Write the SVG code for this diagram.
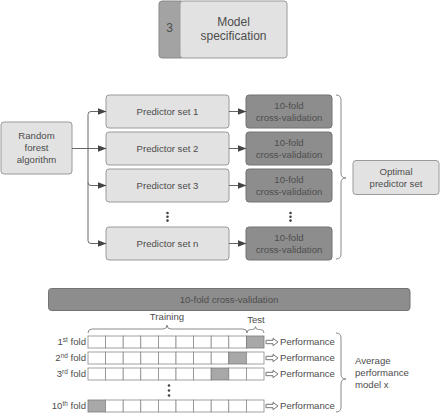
<svg xmlns="http://www.w3.org/2000/svg" width="440" height="413" viewBox="0 0 440 413">
<defs>
<style>
text{font-family:"Liberation Sans",Arial,sans-serif;fill:#4d4d4d;font-size:9.6px;text-anchor:middle}
.light{fill:#e2e2e2;stroke:#9a9a9a;stroke-width:1}
.dark{fill:#8d8d8d;stroke:#737373;stroke-width:1}
.cell{fill:#ffffff;stroke:#8a8a8a;stroke-width:0.8}
.hi{fill:#a8a8a8;stroke:#7a7a7a;stroke-width:0.8}
.edge{fill:none;stroke:#666;stroke-width:1}
.brace{fill:none;stroke:#8a8a8a;stroke-width:1}
.hollow{fill:#fff;stroke:#666;stroke-width:0.9}
.dot{fill:#444}
.l{text-anchor:start}
.r{text-anchor:end}
</style>
<marker id="ah" markerWidth="9" markerHeight="7" refX="8.5" refY="3.5" orient="auto" markerUnits="userSpaceOnUse">
<path d="M0,0 L9,3.5 L0,7 Z" fill="#444"/>
</marker>
</defs>

<g id="header">
<rect x="159" y="1" width="25" height="57" rx="3" fill="#a3a3a3" stroke="#8a8a8a"/>
<rect x="180" y="1" width="107" height="57" rx="3" class="light"/>
<text x="169.5" y="32" style="font-size:12px">3</text>
<text x="233.5" y="25.5" style="font-size:12px">Model</text>
<text x="233.5" y="39.5" style="font-size:12px">specification</text>
</g>

<g id="random-forest">
<rect x="1" y="122" width="71" height="52" rx="3" class="light"/>
<text x="36.5" y="139">Random</text>
<text x="36.5" y="150.7">forest</text>
<text x="36.5" y="162.5">algorithm</text>
</g>

<g id="predictor-sets">
<g id="ps1"><rect x="106" y="95" width="123" height="33" rx="3" class="light"/><text x="167.5" y="114.8">Predictor set 1</text></g>
<g id="ps2"><rect x="106" y="132" width="123" height="33" rx="3" class="light"/><text x="167.5" y="151.8">Predictor set 2</text></g>
<g id="ps3"><rect x="106" y="169" width="123" height="33" rx="3" class="light"/><text x="167.5" y="188.8">Predictor set 3</text></g>
<g id="psn"><rect x="106" y="227" width="123" height="33" rx="3" class="light"/><text x="167.5" y="246.8">Predictor set n</text></g>
</g>

<g id="cv-boxes">
<g id="cv1"><rect x="246" y="95" width="86" height="33" rx="3" class="dark"/><text x="289" y="109.3">10-fold</text><text x="289" y="120.7">cross-validation</text></g>
<g id="cv2"><rect x="246" y="132" width="86" height="33" rx="3" class="dark"/><text x="289" y="146.3">10-fold</text><text x="289" y="157.7">cross-validation</text></g>
<g id="cv3"><rect x="246" y="169" width="86" height="33" rx="3" class="dark"/><text x="289" y="183.3">10-fold</text><text x="289" y="194.7">cross-validation</text></g>
<g id="cvn"><rect x="246" y="227" width="86" height="33" rx="3" class="dark"/><text x="289" y="241.3">10-fold</text><text x="289" y="252.7">cross-validation</text></g>
</g>

<g id="ellipsis-top">
<circle cx="167.5" cy="213" r="1.3" class="dot"/><circle cx="167.5" cy="216.8" r="1.3" class="dot"/><circle cx="167.5" cy="220.6" r="1.3" class="dot"/>
<circle cx="290.5" cy="213" r="1.3" class="dot"/><circle cx="290.5" cy="216.8" r="1.3" class="dot"/><circle cx="290.5" cy="220.6" r="1.3" class="dot"/>
</g>

<g id="optimal">
<rect x="353" y="160.5" width="86" height="34" rx="3" class="light"/>
<text x="396" y="175">Optimal</text>
<text x="396" y="186.6">predictor set</text>
</g>

<g id="connectors">
<path class="edge" d="M72,148.5 H106" marker-end="url(#ah)"/>
<path class="edge" d="M88,148.5 V114.5 Q88,111.5 91,111.5 H106" marker-end="url(#ah)"/>
<path class="edge" d="M88,148.5 V182.5 Q88,185.5 91,185.5 H106" marker-end="url(#ah)"/>
<path class="edge" d="M88,182.5 V240.5 Q88,243.5 91,243.5 H106" marker-end="url(#ah)"/>
<path class="edge" d="M229,111.5 H246" marker-end="url(#ah)"/>
<path class="edge" d="M229,148.5 H246" marker-end="url(#ah)"/>
<path class="edge" d="M229,185.5 H246" marker-end="url(#ah)"/>
<path class="edge" d="M229,243.5 H246" marker-end="url(#ah)"/>
<path class="brace" d="M336,95 Q341,95 341,100 V173 Q341,178 346,178 Q341,178 341,183 V254 Q341,259 336,259"/>
</g>

<g id="cv-detail">
<rect x="48.5" y="288.5" width="361.5" height="22" rx="3" class="dark"/>
<text x="229" y="302.8">10-fold cross-validation</text>
<text x="167" y="320">Training</text>
<text x="256" y="322.5">Test</text>
<path class="brace" d="M88,333 Q88,329 92,329 H163 Q167,329 167,325 Q167,329 171,329 H243 Q247,329 247,333"/>
<path class="brace" d="M247,333 Q247,329.5 250.5,329.5 H252.5 Q255.5,329.5 255.5,326.5 Q255.5,329.5 258.5,329.5 H260.5 Q264,329.5 264,333"/>

<g id="fold1">
<text class="r" x="86" y="345.4">1<tspan style="font-size:6.5px" dy="-3">st</tspan><tspan dy="3"> fold</tspan></text>
<rect class="cell" x="88" y="336" width="17.6" height="12"/><rect class="cell" x="105.6" y="336" width="17.6" height="12"/><rect class="cell" x="123.2" y="336" width="17.6" height="12"/><rect class="cell" x="140.8" y="336" width="17.6" height="12"/><rect class="cell" x="158.4" y="336" width="17.6" height="12"/><rect class="cell" x="176" y="336" width="17.6" height="12"/><rect class="cell" x="193.6" y="336" width="17.6" height="12"/><rect class="cell" x="211.2" y="336" width="17.6" height="12"/><rect class="cell" x="228.8" y="336" width="17.6" height="12"/><rect class="hi" x="246.4" y="336" width="17.6" height="12"/>
<path class="hollow" d="M266,340.3 H273 V338.3 L278,342 L273,345.7 V343.7 H266 Z"/>
<text class="l" x="280" y="345.4">Performance</text>
</g>
<g id="fold2">
<text class="r" x="86" y="361.4">2<tspan style="font-size:6.5px" dy="-3">nd</tspan><tspan dy="3"> fold</tspan></text>
<rect class="cell" x="88" y="352" width="17.6" height="12"/><rect class="cell" x="105.6" y="352" width="17.6" height="12"/><rect class="cell" x="123.2" y="352" width="17.6" height="12"/><rect class="cell" x="140.8" y="352" width="17.6" height="12"/><rect class="cell" x="158.4" y="352" width="17.6" height="12"/><rect class="cell" x="176" y="352" width="17.6" height="12"/><rect class="cell" x="193.6" y="352" width="17.6" height="12"/><rect class="cell" x="211.2" y="352" width="17.6" height="12"/><rect class="hi" x="228.8" y="352" width="17.6" height="12"/><rect class="cell" x="246.4" y="352" width="17.6" height="12"/>
<path class="hollow" d="M266,356.3 H273 V354.3 L278,358 L273,361.7 V359.7 H266 Z"/>
<text class="l" x="280" y="361.4">Performance</text>
</g>
<g id="fold3">
<text class="r" x="86" y="377.4">3<tspan style="font-size:6.5px" dy="-3">rd</tspan><tspan dy="3"> fold</tspan></text>
<rect class="cell" x="88" y="368" width="17.6" height="12"/><rect class="cell" x="105.6" y="368" width="17.6" height="12"/><rect class="cell" x="123.2" y="368" width="17.6" height="12"/><rect class="cell" x="140.8" y="368" width="17.6" height="12"/><rect class="cell" x="158.4" y="368" width="17.6" height="12"/><rect class="cell" x="176" y="368" width="17.6" height="12"/><rect class="cell" x="193.6" y="368" width="17.6" height="12"/><rect class="hi" x="211.2" y="368" width="17.6" height="12"/><rect class="cell" x="228.8" y="368" width="17.6" height="12"/><rect class="cell" x="246.4" y="368" width="17.6" height="12"/>
<path class="hollow" d="M266,372.3 H273 V370.3 L278,374 L273,377.7 V375.7 H266 Z"/>
<text class="l" x="280" y="377.4">Performance</text>
</g>
<g id="ellipsis-bottom">
<circle cx="169" cy="385.5" r="1.3" class="dot"/><circle cx="169" cy="390.5" r="1.3" class="dot"/><circle cx="169" cy="395.5" r="1.3" class="dot"/>
</g>
<g id="fold10">
<text class="r" x="86" y="409.4">10<tspan style="font-size:6.5px" dy="-3">th</tspan><tspan dy="3"> fold</tspan></text>
<rect class="hi" x="88" y="400" width="17.6" height="12"/><rect class="cell" x="105.6" y="400" width="17.6" height="12"/><rect class="cell" x="123.2" y="400" width="17.6" height="12"/><rect class="cell" x="140.8" y="400" width="17.6" height="12"/><rect class="cell" x="158.4" y="400" width="17.6" height="12"/><rect class="cell" x="176" y="400" width="17.6" height="12"/><rect class="cell" x="193.6" y="400" width="17.6" height="12"/><rect class="cell" x="211.2" y="400" width="17.6" height="12"/><rect class="cell" x="228.8" y="400" width="17.6" height="12"/><rect class="cell" x="246.4" y="400" width="17.6" height="12"/>
<path class="hollow" d="M266,404.3 H273 V402.3 L278,406 L273,409.7 V407.7 H266 Z"/>
<text class="l" x="280" y="409.4">Performance</text>
</g>
<path class="brace" d="M336,333 Q341,333 341,338 V374 Q341,379 346,379 Q341,379 341,384 V407 Q341,412 336,412"/>
<g id="average">
<text class="l" x="355" y="364">Average</text>
<text class="l" x="355" y="375.7">performance</text>
<text class="l" x="355" y="387.7">model x</text>
</g>
</g>
</svg>
